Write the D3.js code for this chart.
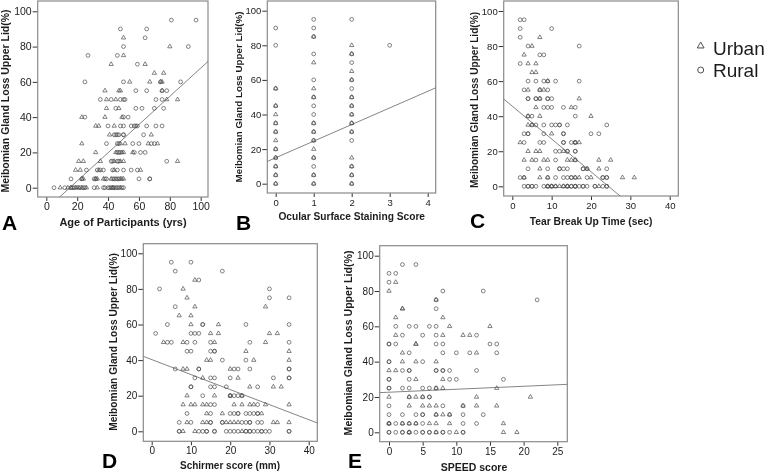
<!DOCTYPE html>
<meta charset="utf-8">
<style>
  html, body { margin: 0; padding: 0; background: #fff; overflow: hidden; }
  svg { display: block; }
  text { font-family: "Liberation Sans", Arial, sans-serif; fill: #1c1c1c; }
  .axis path { display: none; }
  .axis line { stroke: #333; }
  .frame { fill: none; stroke: #8a8a8a; stroke-width: 1.2; }
  .fit { stroke: #777; stroke-width: 0.9; fill: none; }
  .mark { fill: none; stroke: #4e4e4e; stroke-width: 0.7; }
  .label { font-weight: bold; }
  .letter { font-weight: bold; fill: #000; }
</style>
<body>
<script src="https://d3js.org/d3.v7.min.js"></script>
<script>
// each row: [gland loss %, [x values read at that loss]]
var yLabel = "Meibomian Gland Loss Upper Lid(%)";
var yTicks = [0, 20, 40, 60, 80, 100];

var ageTicks = [0, 20, 40, 60, 80, 100];
var ageRural = [[95,[81,97]],[90,[48,65]],[85,[64]],[80,[50,92]],[75,[27,46]],[70,[59]],[60,[25,50,74,87]],[55,[58,65,75,78]],[50,[35,42,48,50,51,71,75]],[45,[45,58,62,70,76]],[40,[25,50,53]],[35,[40,48,50,55,57,58,59,65,71,75]],[30,[44,45,46,47,50,50,63]],[25,[39,46,47,56,60,68,70]],[20,[46,47,48,57,61,64]],[15,[42,43,46,47,78]],[10,[26,33,35,37,43,46,50,55,59]],[5,[16,23,31,32,38,39,43,44,45,46,47,60,67,67]],[0,[5,12,16,17,18,22,24,25,31,37,38,40,41,42,43,44,45,46,47,49,50]]];
var ageUrban = [[85,[50]],[80,[80]],[75,[50]],[70,[42,64]],[65,[70,76]],[60,[54,67,74,75]],[55,[38,47,48,75]],[50,[39,45,78,85]],[45,[39,47]],[40,[23,38,49]],[35,[32,34,44]],[30,[41,68]],[25,[23,48,51,66,72]],[20,[32,45,49,50,56]],[15,[21,24,35,44,48,50,85]],[10,[19,22,34,44,61]],[5,[23,24,32,33,37,42,48,49,50]],[0,[9,14,16,19,20,21,23,26,33,43,48]]];
var ageFit = [-12.2, 0.8];

var stainTicks = [0, 1, 2, 3, 4];
var stainRural = [[95,[1,2]],[90,[0,1]],[85,[1]],[80,[0,3]],[75,[1,2]],[70,[2]],[60,[1,2]],[55,[0,2]],[50,[1,2]],[45,[0,1,2]],[40,[1,2]],[35,[0,1,2]],[30,[0,1,2]],[25,[1,2]],[20,[0]],[15,[0,1]],[10,[0,1,2]],[5,[0,1,2]],[0,[0,1,2]]];
var stainUrban = [[85,[1]],[80,[2]],[75,[2]],[70,[1]],[65,[2]],[60,[2]],[55,[0,1]],[50,[1,2]],[45,[0,2]],[40,[0,2]],[35,[0,1,2]],[30,[0,1,2]],[25,[0,1]],[20,[0,1]],[15,[0,1,2]],[10,[0,2]],[5,[0,1,2]],[0,[0,1,2]]];
var stainFit = [15, 9.6];

var tearTicks = [0, 10, 20, 30, 40];
var tearRural = [[95,[2,3]],[90,[2,10]],[85,[2]],[80,[4,17]],[75,[7,8]],[70,[2]],[60,[4,6,8,9,11,17]],[55,[3,7,9]],[50,[4,4,6,6,7,9,9,10]],[45,[8,9,10,13,16]],[40,[4,5,16]],[35,[5,6,8,10,11,12,12,14,24]],[30,[3,4,4,8,13,13,20,22]],[25,[3,7,8,13,13,15,16,16]],[20,[11,12,14,14,16,16]],[15,[6,11,16]],[10,[4,9,12,12,13,14,18,18,19,24]],[5,[2,3,9,11,13,14,15,15,16,19,23,23,24,24]],[0,[3,4,4,5,5,6,8,9,9,10,10,11,13,14,14,15,15,16,16,16,17,18,18,19,21,21,23,24,24]]];
var tearUrban = [[85,[7]],[80,[5]],[75,[3]],[70,[4,6]],[65,[5,6]],[60,[9]],[55,[4,7,8]],[50,[7,17]],[45,[6,15]],[40,[4,7,20]],[35,[4,5]],[30,[10]],[25,[2,16,17]],[20,[4,6,7,13]],[15,[3,5,8,9,14,15,16,22,25]],[10,[7,19,22]],[5,[3,7,9,16,17,20,28,31]],[0,[9,10,11,12,13,14,22]]];
var tearFit = [45.7, -1.87];

var schirmerTicks = [0, 10, 20, 30, 40];
var schirmerRural = [[95,[5,10]],[90,[6,18]],[85,[12]],[80,[2,30]],[75,[30,35]],[70,[6]],[60,[4,13,13,24,35]],[55,[1,10,11,12]],[50,[4,5,9,11,15,25,35]],[45,[9,10,15,16,16]],[40,[18,24]],[35,[6,12,12,21,22,25,35,35]],[30,[11,15,16,20,31,35,35]],[25,[10,10,15,16,19,27]],[20,[13,20,20,21,22,23]],[15,[15,16,27]],[10,[9,15,20,21,22,22,24,25,26,27,27]],[5,[7,10,15,15,18,18,23,24,25,25,27,28]],[0,[7,7,12,13,14,14,16,16,19,20,21,22,24,24,25,25,26,27,28,28,29,30,35,35]]];
var schirmerUrban = [[85,[11]],[80,[8]],[75,[9]],[70,[11,29]],[65,[7,10]],[60,[10,17]],[55,[15,17,30,32]],[50,[3,8,16,29]],[45,[24,35]],[40,[14,15,26,35]],[35,[8,9,20]],[30,[13,22]],[25,[25,31,33]],[20,[9,16,20,23]],[15,[8,10,11,13,14,21,23,25,26,29,35]],[10,[14,18,28]],[5,[9,13,14,19,20,21,22,31,32,35]],[0,[8,11,23]]];
var schirmerFit = [40.3, -0.844];

var speedTicks = [0, 5, 10, 15, 20, 25];
var speedRural = [[95,[2,4]],[90,[0,1]],[85,[0]],[80,[8,14]],[75,[7,22]],[70,[7]],[60,[1,3,4,6,7]],[55,[2,5,7,13]],[50,[0,0,1,7,8,15,16]],[45,[3,8,10,12,16]],[40,[0,0,5]],[35,[2,3,3,7,7,8,8,9,13]],[30,[0,0,3,9,10,17]],[25,[0,0,2,3,5,6,7]],[20,[3,5,6,6]],[15,[0,8,11]],[10,[0,2,4,5,5,7,9,11,14]],[5,[0,0,1,2,3,4,5,11,13]],[0,[0,0,1,2,2,3,3,4,5,5,6,6,7,8,8,9,11,11]]];
var speedUrban = [[85,[1]],[80,[0]],[75,[7]],[70,[2,2]],[65,[1,8]],[60,[9,15]],[55,[1,8,11,12]],[50,[4,4]],[45,[2,13]],[40,[2,4,7]],[35,[0,1]],[30,[4,8]],[25,[7,8,16]],[20,[0,3,4,5,13,21]],[15,[3,5,6,7,11,13,16]],[10,[7,8,9]],[5,[0,2,3,4,6,7,9,17]],[0,[3,7,10,17,19]]];
var speedFit = [22.7, 0.168];

var legendNames = ["Urban", "Rural"];

var svg = d3.select("body").append("svg")
  .attr("width", 766)
  .attr("height", 476);

// the source is a soft, resampled figure
svg.append("filter").attr("id", "soft")
  .append("feGaussianBlur").attr("stdDeviation", 0.3);

var root = svg.append("g").attr("filter", "url(#soft)");
var triangle = d3.symbol().type(d3.symbolTriangle).size(8)();

function flatten(rows) {
  var out = [];
  rows.forEach(function(r) {
    r[1].forEach(function(x) { out.push({x: x, y: r[0]}); });
  });
  return out;
}

function drawPanel(p, id) {
  var x = d3.scaleLinear().domain([p.xTicks[0], p.xTicks[p.xTicks.length - 1]]).range(p.xPx);
  var y = d3.scaleLinear().domain([0, 100]).range(p.yPx);
  var g = root.append("g");

  g.append("clipPath").attr("id", "clip" + id).append("rect")
    .attr("x", p.box[0]).attr("y", p.box[2])
    .attr("width", p.box[1] - p.box[0]).attr("height", p.box[3] - p.box[2]);

  g.append("g").attr("class", "axis")
    .attr("transform", "translate(0," + p.box[3] + ")")
    .call(d3.axisBottom(x).tickValues(p.xTicks).tickSize(4).tickPadding(2).tickFormat(d3.format("d")))
    .selectAll("text").style("font-size", p.tick + "px");

  g.append("g").attr("class", "axis")
    .attr("transform", "translate(" + p.box[0] + ",0)")
    .call(d3.axisLeft(y).tickValues(yTicks).tickSize(5).tickPadding(1).tickFormat(d3.format("d")))
    .selectAll("text").style("font-size", p.tick + "px");

  g.append("rect").attr("class", "frame")
    .attr("x", p.box[0]).attr("y", p.box[2])
    .attr("width", p.box[1] - p.box[0]).attr("height", p.box[3] - p.box[2]);

  // fit line runs past the frame and gets clipped
  var xr = [p.xTicks[0] - 50, p.xTicks[p.xTicks.length - 1] + 50];
  g.append("line").attr("class", "fit")
    .attr("clip-path", "url(#clip" + id + ")")
    .attr("x1", x(xr[0])).attr("y1", y(p.fit[0] + p.fit[1] * xr[0]))
    .attr("x2", x(xr[1])).attr("y2", y(p.fit[0] + p.fit[1] * xr[1]));

  g.selectAll(".rural").data(flatten(p.rural)).enter().append("circle")
    .attr("class", "mark rural")
    .attr("r", 1.9)
    .attr("cx", function(d) { return x(d.x); })
    .attr("cy", function(d) { return y(d.y); });

  g.selectAll(".urban").data(flatten(p.urban)).enter().append("path")
    .attr("class", "mark urban")
    .attr("d", triangle)
    .attr("transform", function(d) { return "translate(" + x(d.x) + "," + y(d.y) + ")"; });

  g.append("text").attr("class", "label")
    .attr("transform", "translate(" + p.yLab[0] + "," + p.yLab[1] + ") rotate(-90)")
    .attr("text-anchor", "middle")
    .style("font-size", p.yLab[2] + "px")
    .text(yLabel);

  g.append("text").attr("class", "label")
    .attr("x", p.xLab[0]).attr("y", p.xLab[1])
    .attr("text-anchor", "middle")
    .style("font-size", p.xLab[2] + "px")
    .text(p.title);

  g.append("text").attr("class", "letter")
    .attr("x", p.letter[0]).attr("y", p.letter[1])
    .style("font-size", "21px")
    .text(p.name);
}

drawPanel({name: "A", title: "Age of Participants (yrs)", rural: ageRural, urban: ageUrban, fit: ageFit, xTicks: ageTicks,
  xPx: [46.3, 200.7], yPx: [187.7, 11.3], box: [37.7, 208, 1, 197], tick: 10.5,
  yLab: [9, 101, 10.5], xLab: [123, 226, 11], letter: [2, 230]}, "a");
drawPanel({name: "B", title: "Ocular Surface Staining Score", rural: stainRural, urban: stainUrban, fit: stainFit, xTicks: stainTicks,
  xPx: [275.7, 427.7], yPx: [183.7, 10.7], box: [267.3, 435.7, 1, 193], tick: 9.5,
  yLab: [242, 97, 9.8], xLab: [351.7, 220, 10.2], letter: [236, 230]}, "b");
drawPanel({name: "C", title: "Tear Break Up Time (sec)", rural: tearRural, urban: tearUrban, fit: tearFit, xTicks: tearTicks,
  xPx: [512.3, 669.7], yPx: [186.3, 11], box: [503.7, 678.3, 1, 196], tick: 9.5,
  yLab: [478, 100, 10.1], xLab: [591, 225, 10.3], letter: [470, 228]}, "c");
drawPanel({name: "D", title: "Schirmer score (mm)", rural: schirmerRural, urban: schirmerUrban, fit: schirmerFit, xTicks: schirmerTicks,
  xPx: [151.7, 308.7], yPx: [431.3, 253.3], box: [143.3, 317.3, 243.7, 441.3], tick: 10,
  yLab: [117, 342, 10.2], xLab: [230, 469, 10], letter: [102, 468]}, "d");
drawPanel({name: "E", title: "SPEED score", rural: speedRural, urban: speedUrban, fit: speedFit, xTicks: speedTicks,
  xPx: [389, 557.3], yPx: [432.3, 255.7], box: [379.7, 567.3, 245.7, 441.7], tick: 10,
  yLab: [352, 343, 10.6], xLab: [474, 471, 10.5], letter: [348, 468]}, "e");

// legend
var legend = root.append("g");
legend.append("path").attr("class", "mark").attr("d", d3.symbol().type(d3.symbolTriangle).size(20)())
  .attr("transform", "translate(700.7,46)").style("stroke-width", 1);
legend.append("circle").attr("class", "mark").attr("r", 3)
  .attr("cx", 700.7).attr("cy", 70).style("stroke-width", 1);
legend.selectAll("text").data(legendNames).enter().append("text")
  .attr("x", 713)
  .attr("y", function(d, i) { return i ? 77 : 55; })
  .style("font-size", "19px")
  .text(function(d) { return d; });
</script>
</body>
